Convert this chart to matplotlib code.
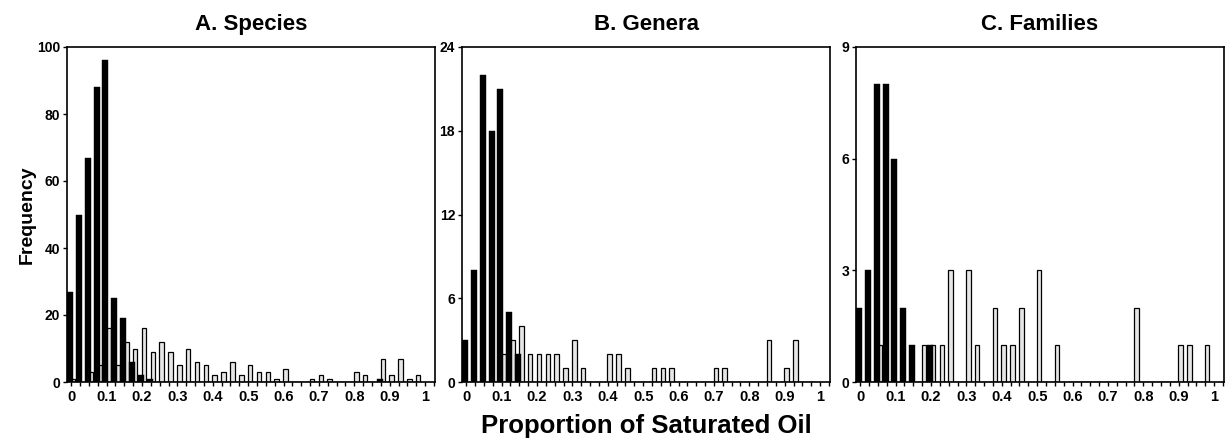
import matplotlib
matplotlib.use("Agg")
import matplotlib.pyplot as plt
import numpy as np
from matplotlib.ticker import MultipleLocator

plt.rcParams['font.family'] = ['Liberation Sans', 'DejaVu Sans']
plt.rcParams['font.weight'] = 'bold'

# bin starts, width 0.025
bin_left = [i * 0.025 for i in range(40)]

species_dark = [27, 50, 67, 88, 96, 25, 19, 6, 2, 1,
                0, 0, 0, 0, 0, 0, 0, 0, 0, 0,
                0, 0, 0, 0, 0, 0, 0, 0, 0, 0,
                0, 0, 0, 0, 0, 1, 0, 0, 0, 0]
species_light = [1, 0, 3, 5, 16, 5, 12, 10, 16, 9,
                 12, 9, 5, 10, 6, 5, 2, 3, 6, 2,
                 5, 3, 3, 1, 4, 0, 0, 1, 2, 1,
                 0, 0, 3, 2, 0, 7, 2, 7, 1, 2]

genera_dark = [3, 8, 22, 18, 21, 5, 2, 0, 0, 0,
               0, 0, 0, 0, 0, 0, 0, 0, 0, 0,
               0, 0, 0, 0, 0, 0, 0, 0, 0, 0,
               0, 0, 0, 0, 0, 0, 0, 0, 0, 0]
genera_light = [0, 0, 0, 0, 2, 3, 4, 2, 2, 2,
                2, 1, 3, 1, 0, 0, 2, 2, 1, 0,
                0, 1, 1, 1, 0, 0, 0, 0, 1, 1,
                0, 0, 0, 0, 3, 0, 1, 3, 0, 0]

families_dark = [2, 3, 8, 8, 6, 2, 1, 0, 1, 0,
                 0, 0, 0, 0, 0, 0, 0, 0, 0, 0,
                 0, 0, 0, 0, 0, 0, 0, 0, 0, 0,
                 0, 0, 0, 0, 0, 0, 0, 0, 0, 0]
families_light = [0, 0, 1, 0, 0, 0, 0, 1, 1, 1,
                  3, 0, 3, 1, 0, 2, 1, 1, 2, 0,
                  3, 0, 1, 0, 0, 0, 0, 0, 0, 0,
                  0, 2, 0, 0, 0, 0, 1, 1, 0, 1]

titles = ['A. Species', 'B. Genera', 'C. Families']
y_max = [100, 24, 9]
y_step = [20, 6, 3]
x_labels = ['0', '0.1', '0.2', '0.3', '0.4', '0.5', '0.6', '0.7', '0.8', '0.9', '1']


def histo(ax, dark, light, title, ymax, ystep):
    """Draws one panel: light bars behind, black bars in front"""
    x = np.array(bin_left)
    ax.bar(x + 0.0055, light, width=0.013, color='#e6e6e6',
           edgecolor='black', linewidth=0.9, zorder=2)
    ax.bar(x - 0.0035, dark, width=0.017, color='black',
           edgecolor='black', linewidth=0.3, zorder=3)
    ax.set_xlim(-0.012, 1.028)
    ax.set_ylim(0, ymax)
    ax.set_title(title, fontsize=16, fontweight='bold', pad=12)
    ax.xaxis.set_minor_locator(MultipleLocator(0.025))
    ax.set_xticks([i / 10 for i in range(11)])
    ax.set_xticklabels(x_labels)
    ax.yaxis.set_major_locator(MultipleLocator(ystep))
    ax.tick_params(axis='both', which='both', direction='out', length=3,
                   width=1, labelsize=10.5, pad=3)
    ax.tick_params(axis='y', labelsize=10, pad=2)
    for lab in ax.get_xticklabels() + ax.get_yticklabels():
        lab.set_fontweight('bold')
    for s in ax.spines.values():
        s.set_linewidth(1.2)


fig = plt.figure(figsize=(12.25, 4.41), dpi=100)
lefts = [67, 462, 856]
data = [(species_dark, species_light), (genera_dark, genera_light),
        (families_dark, families_light)]
axes = []
for i in range(3):
    ax = fig.add_axes([lefts[i] / 1225, 1 - 382 / 441, 368 / 1225, 335 / 441])
    histo(ax, data[i][0], data[i][1], titles[i], y_max[i], y_step[i])
    axes.append(ax)

axes[0].set_ylabel('Frequency', fontsize=14, fontweight='bold')
axes[0].yaxis.set_label_coords(-0.085, 0.5)
axes[1].set_xlabel('Proportion of Saturated Oil', fontsize=18.5,
                   fontweight='bold', labelpad=7)

fig.savefig('out.png', dpi=100)
